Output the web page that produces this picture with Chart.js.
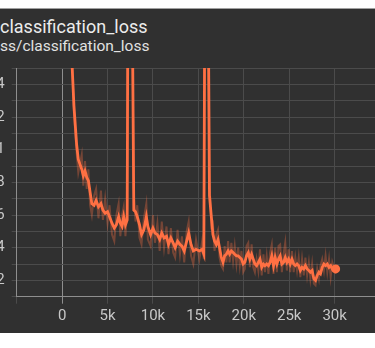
<!DOCTYPE html>
<html>
<head>
<meta charset="utf-8">
<script src="https://cdn.jsdelivr.net/npm/chart.js@4.4.1/dist/chart.umd.min.js"></script>
<style>
  html, body { margin: 0; padding: 0; width: 375px; height: 348px; overflow: hidden; background: #fff; }
  #panel { position: absolute; left: 0; top: 8px; width: 375px; height: 325px; background: #303030; border-top: 1px solid #a0a0a0; box-sizing: border-box; }
  .title { position: absolute; white-space: nowrap; font-family: Roboto, "Noto Sans", sans-serif; line-height: 1; }
  #t1 { left: 0; top: 18px; font-size: 18px; color: #ececec; }
  #t2 { top: 39px; font-size: 15.5px; color: #e2e2e2; }
  #chart { position: absolute; left: -30px; top: 48px; }
</style>
</head>
<body>
<div id="panel"></div>
<div class="title" id="t1">classification_loss</div>
<div class="title" id="t2">Loss/classification_loss</div>
<canvas id="chart" width="460" height="290"></canvas>
<script>
// training steps
const steps = [1020, 1110, 1300, 1600, 1780, 2160, 2330, 2520, 2710, 2890,
  3080, 3270, 3520, 3740, 4000, 4270, 4490, 4740, 5000, 5220,
  5490, 5740, 5970, 6220, 6410, 6600, 6780, 6970, 7160, 7280,
  7630, 7890, 8080, 8270, 8520, 8740, 9000, 9270, 9440, 9740,
  10000, 10220, 10490, 10740, 10970, 11220, 11490, 11710, 11970, 12220,
  12440, 12710, 12970, 13190, 13440, 13710, 13930, 14190, 14440, 14740,
  15110, 15410, 15600, 15740, 16020, 16220, 16410, 16600, 16780, 16970,
  17160, 17330, 17520, 17710, 17890, 18080, 18270, 18440, 18630, 18820,
  19000, 19190, 19380, 19560, 19740, 19930, 20110, 20300, 20490, 20670,
  20860, 21040, 21220, 21410, 21600, 21780, 21970, 22160, 22330, 22520,
  22710, 22890, 23080, 23270, 23450, 23640, 23820, 24000, 24190, 24380,
  24560, 24740, 24930, 25110, 25300, 25490, 25670, 25860, 26040, 26220,
  26410, 26600, 26780, 26970, 27160, 27330, 27520, 27710, 27890, 28080,
  28270, 28440, 28630, 28820, 29000, 29190, 29380, 29560, 29740, 30110];

// smoothed loss (bright line)
const smoothed = [2.2, 1.5, 1.27, 1.03, 0.94, 0.88, 0.84, 0.87, 0.83, 0.81,
  0.74, 0.67, 0.66, 0.69, 0.65, 0.67, 0.63, 0.61, 0.62, 0.59,
  0.55, 0.52, 0.54, 0.59, 0.55, 0.53, 0.59, 0.54, 0.57, 2.6,
  2.6, 0.63, 0.62, 0.59, 0.54, 0.48, 0.51, 0.59, 0.53, 0.48,
  0.52, 0.49, 0.48, 0.45, 0.49, 0.46, 0.47, 0.42, 0.46, 0.43,
  0.40, 0.44, 0.42, 0.41, 0.38, 0.44, 0.49, 0.42, 0.38, 0.39,
  0.38, 0.39, 0.36, 2.5, 2.5, 0.72, 0.60, 0.48, 0.44, 0.42,
  0.45, 0.40, 0.34, 0.31, 0.35, 0.36, 0.38, 0.36, 0.38, 0.37,
  0.36, 0.35, 0.35, 0.34, 0.33, 0.30, 0.31, 0.35, 0.37, 0.33,
  0.36, 0.33, 0.30, 0.29, 0.31, 0.33, 0.28, 0.30, 0.29, 0.30,
  0.29, 0.31, 0.35, 0.29, 0.34, 0.30, 0.33, 0.35, 0.30, 0.31,
  0.34, 0.31, 0.33, 0.30, 0.33, 0.30, 0.29, 0.30, 0.29, 0.26,
  0.28, 0.27, 0.29, 0.27, 0.26, 0.25, 0.26, 0.21, 0.20, 0.23,
  0.25, 0.24, 0.28, 0.30, 0.29, 0.30, 0.28, 0.29, 0.27, 0.27];

// raw loss (faint line)
const raw = [2.3, 1.55, 1.22, 0.98, 0.86, 0.97, 0.78, 0.93, 0.76, 0.88,
  0.66, 0.60, 0.72, 0.76, 0.58, 0.75, 0.57, 0.70, 0.55, 0.66,
  0.48, 0.44, 0.60, 0.67, 0.47, 0.60, 0.65, 0.47, 0.63, 2.8,
  2.4, 0.72, 0.56, 0.66, 0.46, 0.42, 0.58, 0.67, 0.45, 0.41,
  0.60, 0.43, 0.55, 0.38, 0.56, 0.40, 0.53, 0.36, 0.52, 0.37,
  0.34, 0.51, 0.36, 0.47, 0.31, 0.50, 0.56, 0.35, 0.30, 0.45,
  0.33, 0.44, 0.33, 2.7, 2.2, 0.82, 0.53, 0.55, 0.38, 0.48,
  0.51, 0.34, 0.29, 0.27, 0.41, 0.31, 0.44, 0.31, 0.43, 0.32,
  0.41, 0.30, 0.40, 0.29, 0.38, 0.25, 0.27, 0.41, 0.43, 0.28,
  0.42, 0.28, 0.25, 0.33, 0.26, 0.39, 0.23, 0.36, 0.25, 0.35,
  0.24, 0.37, 0.42, 0.24, 0.40, 0.25, 0.41, 0.42, 0.25, 0.36,
  0.43, 0.26, 0.39, 0.25, 0.38, 0.25, 0.34, 0.26, 0.34, 0.22,
  0.33, 0.23, 0.34, 0.23, 0.31, 0.21, 0.30, 0.18, 0.17, 0.27,
  0.21, 0.29, 0.33, 0.26, 0.35, 0.25, 0.33, 0.22, 0.31, 0.24];

const xLabelled = [0, 5000, 10000, 15000, 20000, 25000, 30000];

const orange = "#ff7043";
const gridDim = "#4b4b4b";
const gridBright = "#8e8e8e";
const tickColor = "#c8c8c8";
const tickFont = { family: "Roboto", size: 15 };

// push the second title so its first letters fall off the left edge
const t2 = document.getElementById("t2");
const m = document.createElement("canvas").getContext("2d");
m.font = "15.5px Roboto";
t2.style.left = -m.measureText("Lo").width + "px";

const last = steps.length - 1;

new Chart(document.getElementById("chart"), {
  type: "line",
  data: {
    datasets: [
      {
        data: steps.map((s, i) => ({ x: s, y: smoothed[i] })),
        borderColor: orange,
        backgroundColor: orange,
        borderWidth: 2.8,
        pointRadius: steps.map((s, i) => (i === last ? 4.5 : 0)),
        pointBorderWidth: 0,
        tension: 0,
        order: 0
      },
      {
        data: steps.map((s, i) => ({ x: s, y: raw[i] })),
        borderColor: "rgba(255,112,67,0.33)",
        borderWidth: 2,
        pointRadius: 0,
        tension: 0,
        order: 1
      }
    ]
  },
  options: {
    responsive: false,
    animation: false,
    layout: { padding: { top: 20, left: 0, right: 0, bottom: 0 } },
    plugins: { legend: { display: false }, tooltip: { enabled: false } },
    scales: {
      x: {
        type: "linear",
        min: -5000,
        max: 40000,
        afterFit: s => { s.height = 290 - 248.7; },
        ticks: {
          stepSize: 5000,
          autoSkip: false,
          maxRotation: 0,
          padding: 4,
          color: tickColor,
          font: tickFont,
          callback: v => xLabelled.includes(v) ? (v === 0 ? "0" : v / 1000 + "k") : ""
        },
        grid: {
          color: c => (c.tick && c.tick.value === 0 ? gridBright : gridDim),
          tickLength: 7
        },
        border: { color: gridBright }
      },
      y: {
        min: 0.1,
        max: 1.5,
        afterFit: s => { s.width = 46.7; },
        ticks: {
          stepSize: 0.1,
          autoSkip: false,
          padding: 7,
          color: tickColor,
          font: tickFont,
          callback: v => {
            const k = Math.round(v * 10);
            return k % 2 === 0 ? String(k / 10) : "";
          }
        },
        grid: { color: gridDim, tickLength: 5 },
        border: { color: gridBright }
      }
    }
  }
});
</script>
</body>
</html>
